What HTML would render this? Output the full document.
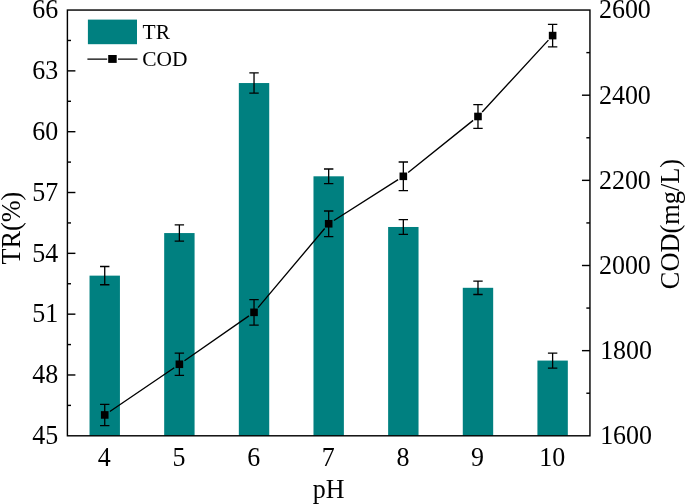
<!DOCTYPE html>
<html><head><meta charset="utf-8"><title>TR and COD vs pH</title>
<style>
html,body{margin:0;padding:0;background:#fff;}
svg{display:block}
text{font-family:"Liberation Serif","Times New Roman",serif;font-size:26.9px;fill:#000;}
</style></head><body>
<svg width="685" height="504" viewBox="0 0 685 504">
<rect width="685" height="504" fill="#fff"/>

<rect x="89.53" y="275.64" width="30.40" height="160.16" fill="#008080"/>
<rect x="164.18" y="233.06" width="30.40" height="202.74" fill="#008080"/>
<rect x="238.83" y="83.04" width="30.40" height="352.76" fill="#008080"/>
<rect x="313.48" y="176.30" width="30.40" height="259.50" fill="#008080"/>
<rect x="388.13" y="226.98" width="30.40" height="208.82" fill="#008080"/>
<rect x="462.78" y="287.80" width="30.40" height="148.00" fill="#008080"/>
<rect x="537.42" y="360.58" width="30.40" height="75.22" fill="#008080"/>
<rect x="67.4" y="10.05" width="522.55" height="425.75" fill="none" stroke="#000" stroke-width="1.42"/>
<text transform="translate(58.10,444.10) scale(0.965,1)" text-anchor="end">45</text>
<line x1="67.4" x2="71.0" y1="405.39" y2="405.39" stroke="#000" stroke-width="1.42"/>
<line x1="67.4" x2="75.4" y1="374.98" y2="374.98" stroke="#000" stroke-width="1.42"/>
<text transform="translate(58.10,383.28) scale(0.965,1)" text-anchor="end">48</text>
<line x1="67.4" x2="71.0" y1="344.57" y2="344.57" stroke="#000" stroke-width="1.42"/>
<line x1="67.4" x2="75.4" y1="314.16" y2="314.16" stroke="#000" stroke-width="1.42"/>
<text transform="translate(58.10,322.46) scale(0.965,1)" text-anchor="end">51</text>
<line x1="67.4" x2="71.0" y1="283.75" y2="283.75" stroke="#000" stroke-width="1.42"/>
<line x1="67.4" x2="75.4" y1="253.34" y2="253.34" stroke="#000" stroke-width="1.42"/>
<text transform="translate(58.10,261.64) scale(0.965,1)" text-anchor="end">54</text>
<line x1="67.4" x2="71.0" y1="222.93" y2="222.93" stroke="#000" stroke-width="1.42"/>
<line x1="67.4" x2="75.4" y1="192.51" y2="192.51" stroke="#000" stroke-width="1.42"/>
<text transform="translate(58.10,200.81) scale(0.965,1)" text-anchor="end">57</text>
<line x1="67.4" x2="71.0" y1="162.10" y2="162.10" stroke="#000" stroke-width="1.42"/>
<line x1="67.4" x2="75.4" y1="131.69" y2="131.69" stroke="#000" stroke-width="1.42"/>
<text transform="translate(58.10,139.99) scale(0.965,1)" text-anchor="end">60</text>
<line x1="67.4" x2="71.0" y1="101.28" y2="101.28" stroke="#000" stroke-width="1.42"/>
<line x1="67.4" x2="75.4" y1="70.87" y2="70.87" stroke="#000" stroke-width="1.42"/>
<text transform="translate(58.10,79.17) scale(0.965,1)" text-anchor="end">63</text>
<line x1="67.4" x2="71.0" y1="40.46" y2="40.46" stroke="#000" stroke-width="1.42"/>
<text transform="translate(58.10,18.35) scale(0.965,1)" text-anchor="end">66</text>
<text transform="translate(600.15,444.10) scale(0.965,1)">1600</text>
<line x1="589.95" x2="586.35" y1="393.23" y2="393.23" stroke="#000" stroke-width="1.42"/>
<line x1="589.95" x2="581.95" y1="350.65" y2="350.65" stroke="#000" stroke-width="1.42"/>
<text transform="translate(600.15,358.95) scale(0.965,1)">1800</text>
<line x1="589.95" x2="586.35" y1="308.07" y2="308.07" stroke="#000" stroke-width="1.42"/>
<line x1="589.95" x2="581.95" y1="265.50" y2="265.50" stroke="#000" stroke-width="1.42"/>
<text transform="translate(598.95,273.80) scale(0.965,1)">2000</text>
<line x1="589.95" x2="586.35" y1="222.93" y2="222.93" stroke="#000" stroke-width="1.42"/>
<line x1="589.95" x2="581.95" y1="180.35" y2="180.35" stroke="#000" stroke-width="1.42"/>
<text transform="translate(598.95,188.65) scale(0.965,1)">2200</text>
<line x1="589.95" x2="586.35" y1="137.78" y2="137.78" stroke="#000" stroke-width="1.42"/>
<line x1="589.95" x2="581.95" y1="95.20" y2="95.20" stroke="#000" stroke-width="1.42"/>
<text transform="translate(598.95,103.50) scale(0.965,1)">2400</text>
<line x1="589.95" x2="586.35" y1="52.62" y2="52.62" stroke="#000" stroke-width="1.42"/>
<text transform="translate(598.95,18.35) scale(0.965,1)">2600</text>
<text transform="translate(104.33,465.50) scale(0.965,1)" text-anchor="middle">4</text>
<text transform="translate(178.97,465.50) scale(0.965,1)" text-anchor="middle">5</text>
<text transform="translate(253.63,465.50) scale(0.965,1)" text-anchor="middle">6</text>
<text transform="translate(328.28,465.50) scale(0.965,1)" text-anchor="middle">7</text>
<text transform="translate(402.93,465.50) scale(0.965,1)" text-anchor="middle">8</text>
<text transform="translate(477.58,465.50) scale(0.965,1)" text-anchor="middle">9</text>
<text transform="translate(552.23,465.50) scale(0.965,1)" text-anchor="middle">10</text>
<text transform="translate(328.68,497.70) scale(0.965,1)" text-anchor="middle">pH</text>
<text transform="translate(19.80,228.10) rotate(-90) scale(0.975,1)" text-anchor="middle">TR(%)</text>
<text transform="translate(679.00,224.00) rotate(-90) scale(0.98,1)" text-anchor="middle">COD(mg/L)</text>
<path d="M104.73 266.51V284.76M100.03 266.51H109.43M100.03 284.76H109.43" stroke="#000" stroke-width="1.3" fill="none"/>
<path d="M179.38 224.95V241.17M174.68 224.95H184.07M174.68 241.17H184.07" stroke="#000" stroke-width="1.3" fill="none"/>
<path d="M254.03 72.90V93.17M249.33 72.90H258.73M249.33 93.17H258.73" stroke="#000" stroke-width="1.3" fill="none"/>
<path d="M328.68 169.00V183.59M323.98 169.00H333.38M323.98 183.59H333.38" stroke="#000" stroke-width="1.3" fill="none"/>
<path d="M403.33 219.68V234.28M398.63 219.68H408.03M398.63 234.28H408.03" stroke="#000" stroke-width="1.3" fill="none"/>
<path d="M477.98 281.11V294.49M473.28 281.11H482.68M473.28 294.49H482.68" stroke="#000" stroke-width="1.3" fill="none"/>
<path d="M552.62 353.08V368.09M547.92 353.08H557.33M547.92 368.09H557.33" stroke="#000" stroke-width="1.3" fill="none"/>
<path d="M109.86 411.46L174.24 367.76M184.46 360.73L248.94 315.87M258.02 307.59L324.68 228.52M333.91 220.45L398.09 179.63M408.16 172.43L473.14 120.36M482.18 111.93L548.42 40.15" fill="none" stroke="#000" stroke-width="1.35"/>
<path d="M104.73 404.29V425.58M100.03 404.29H109.43M100.03 425.58H109.43" stroke="#000" stroke-width="1.3" fill="none"/>
<rect x="100.93" y="411.14" width="7.6" height="7.6" fill="#000"/>
<path d="M179.38 353.20V375.34M174.68 353.20H184.07M174.68 375.34H184.07" stroke="#000" stroke-width="1.3" fill="none"/>
<rect x="175.57" y="360.47" width="7.6" height="7.6" fill="#000"/>
<path d="M254.03 299.56V325.11M249.33 299.56H258.73M249.33 325.11H258.73" stroke="#000" stroke-width="1.3" fill="none"/>
<rect x="250.23" y="308.53" width="7.6" height="7.6" fill="#000"/>
<path d="M328.68 211.00V236.55M323.98 211.00H333.38M323.98 236.55H333.38" stroke="#000" stroke-width="1.3" fill="none"/>
<rect x="324.88" y="219.98" width="7.6" height="7.6" fill="#000"/>
<path d="M403.33 162.00V190.61M398.63 162.00H408.03M398.63 190.61H408.03" stroke="#000" stroke-width="1.3" fill="none"/>
<rect x="399.53" y="172.51" width="7.6" height="7.6" fill="#000"/>
<path d="M477.98 104.57V128.41M473.28 104.57H482.68M473.28 128.41H482.68" stroke="#000" stroke-width="1.3" fill="none"/>
<rect x="474.18" y="112.69" width="7.6" height="7.6" fill="#000"/>
<path d="M552.62 24.40V46.79M547.92 24.40H557.33M547.92 46.79H557.33" stroke="#000" stroke-width="1.3" fill="none"/>
<rect x="548.83" y="31.79" width="7.6" height="7.6" fill="#000"/>
<rect x="87.9" y="19.6" width="49.1" height="24.6" fill="#008080"/>
<text transform="translate(142.60,38.90) scale(0.98,1)" style="font-size:21.9px">TR</text>
<path d="M87.4 59.15H107.2M118 59.15H137.5" stroke="#000" stroke-width="1.3" fill="none"/>
<rect x="108.2" y="55" width="8.5" height="7.9" fill="#000"/>
<text transform="translate(142.20,66.20) scale(0.98,1)" style="font-size:21.9px">COD</text>
</svg></body></html>
